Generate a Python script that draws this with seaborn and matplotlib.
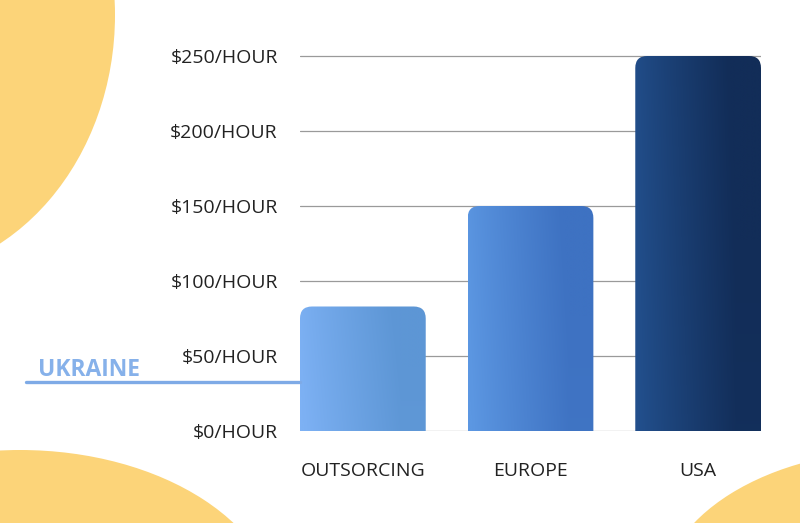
import numpy as np
import seaborn as sns
import matplotlib.pyplot as plt
from matplotlib.patches import Ellipse, PathPatch
from matplotlib.path import Path
from matplotlib.colors import to_rgb

# Data
categories = ["OUTSORCING", "EUROPE", "USA"]
rates = [83, 150, 250]
ukraine_rate = 33
ytick_values = [0, 50, 100, 150, 200, 250]
ytick_labels = ["$0/HOUR", "$50/HOUR", "$100/HOUR", "$150/HOUR", "$200/HOUR", "$250/HOUR"]

# gradient colours (left, right) per bar
grad_left = ["#7db1f4", "#5c97e2", "#224f8c"]
grad_right = ["#5d96d5", "#3e72c2", "#122d58"]

sns.set_theme(style="white")
plt.rcParams['font.family'] = ['Open Sans', 'DejaVu Sans']

fig = plt.figure(figsize=(8, 5.23), dpi=100)

# background yellow blobs, in pixel coordinates
bg = fig.add_axes([0, 0, 1, 1], zorder=0)
bg.set_xlim(0, 800)
bg.set_ylim(523, 0)
bg.axis('off')
blob = "#fcd479"
bg.add_patch(Ellipse((-110, 15), 450, 524, color=blob, lw=0))
bg.add_patch(Ellipse((20, 620), 520, 340, color=blob, lw=0))
bg.add_patch(Ellipse((900, 600), 480, 300, color=blob, lw=0))

# main chart
ax = fig.add_axes([300 / 800, 1 - 431 / 523, 461 / 800, 378 / 523], zorder=1)
ax.set_facecolor('none')
sns.barplot(x=categories, y=rates, width=0.75, ax=ax)

xlim = (-0.375, 2.375)
ylim = (0, 252)
px_x = 461 / (xlim[1] - xlim[0])
px_y = 378 / (ylim[1] - ylim[0])
r = 12

for i, bar in enumerate(ax.patches):
    x0 = bar.get_x()
    w = bar.get_width()
    h = bar.get_height()
    x1 = x0 + w
    rx, ry = r / px_x, r / px_y
    verts = [(x0, 0), (x0, h - ry), (x0, h), (x0 + rx, h),
             (x1 - rx, h), (x1, h), (x1, h - ry), (x1, 0), (x0, 0)]
    codes = [Path.MOVETO, Path.LINETO, Path.CURVE3, Path.CURVE3,
             Path.LINETO, Path.CURVE3, Path.CURVE3, Path.LINETO, Path.CLOSEPOLY]
    shape = PathPatch(Path(verts, codes), facecolor='none', edgecolor='none')
    ax.add_patch(shape)
    c0 = np.array(to_rgb(grad_left[i]))
    c1 = np.array(to_rgb(grad_right[i]))
    t = np.linspace(0, 1, 200)
    t = np.clip(t / 0.8, 0, 1) ** 0.9
    rows = np.linspace(0, 1, 50)[:, None]
    tt = np.clip(t[None, :] + 0.12 * (rows - 0.5), 0, 1)
    img = c0 + (c1 - c0) * tt[..., None]
    im = ax.imshow(img, extent=[x0, x1, 0, h], origin='lower', aspect='auto', zorder=2)
    im.set_clip_path(shape)
    bar.set_visible(False)

ax.set_xlim(*xlim)
ax.set_ylim(*ylim)

ax.set_yticks(ytick_values)
ax.set_yticklabels(ytick_labels)
ax.yaxis.grid(True, color="#9a9a9a", linewidth=0.9)
ax.set_axisbelow(True)
for s in ax.spines.values():
    s.set_visible(False)
ax.tick_params(axis='y', length=0, pad=16, labelsize=14, labelcolor="#222222")
ax.tick_params(axis='x', length=0, pad=22, labelsize=14, labelcolor="#222222")
ax.set_xlabel("")
ax.set_ylabel("")

# Ukraine reference line
ax.axhline(ukraine_rate, xmin=(26 - 300) / 461, xmax=0, color="#7eaae6",
           linewidth=2.4, clip_on=False, zorder=3)
fig.text(38 / 800, 1 - 376 / 523, "UKRAINE", color="#86b1ea", fontsize=16.5,
         fontweight='bold', va='baseline', ha='left')

plt.savefig("out.png", dpi=100)
